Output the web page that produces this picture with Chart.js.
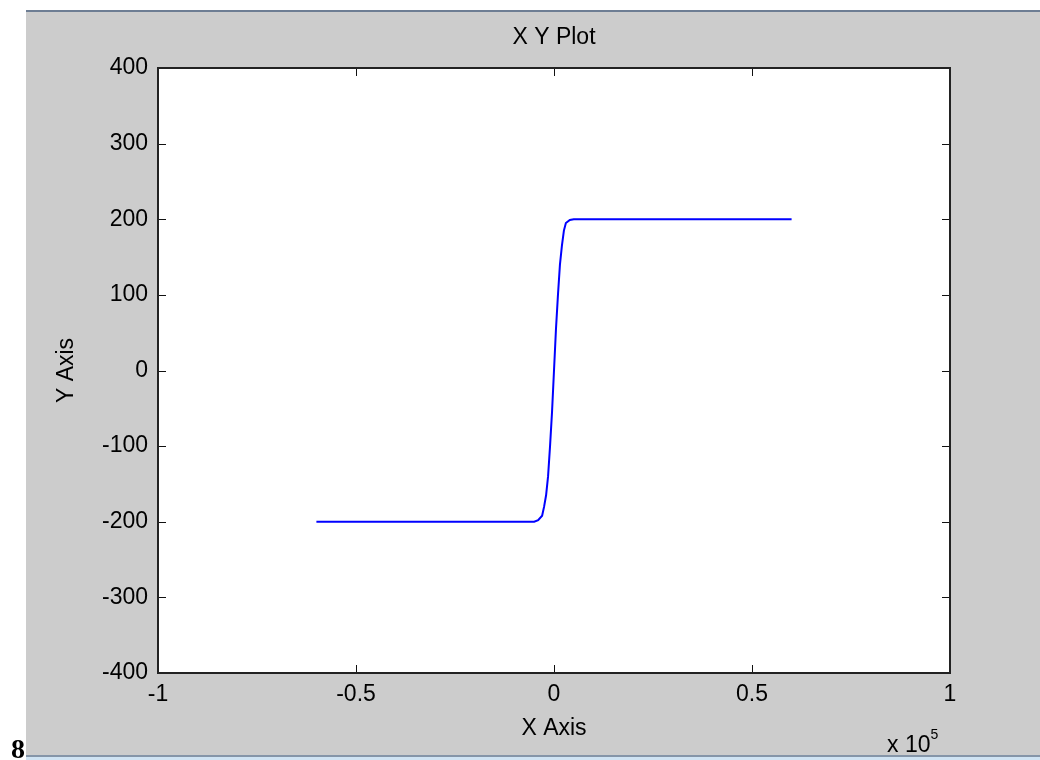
<!DOCTYPE html>
<html lang="en">
<head>
  <meta charset="UTF-8">
  <title>X Y Plot</title>
  <script src="https://cdn.jsdelivr.net/npm/chart.js"></script>
  <style>
    body {
      margin: 0;
      background-color: #ffffff;
      width: 1040px;
      height: 760px;
      overflow: hidden;
      position: relative;
      font-family: "Liberation Sans", Arial, sans-serif;
    }
    #fond {
      position: absolute;
      left: 26px;
      top: 10px;
      width: 1014px;
      height: 743px;
      background-color: #cccccc;
      border-top: 2px solid #6d7d93;
      border-bottom: 2px solid #8595a8;
    }
    #bas {
      position: absolute;
      left: 26px;
      top: 757px;
      width: 1014px;
      height: 3px;
      background-color: #cfe3f3;
    }
    #graph {
      position: absolute;
      left: 0;
      top: 0;
    }
    #facteur {
      position: absolute;
      left: 887px;
      top: 730px;
      font-size: 23px;
      color: #000;
    }
    #facteur sup {
      font-size: 14px;
      position: relative;
      top: -4px;
    }
    #numero {
      position: absolute;
      left: 11px;
      top: 733px;
      font-family: "Liberation Serif", "Times New Roman", serif;
      font-weight: bold;
      font-size: 28px;
      color: #000;
    }
  </style>
</head>
<body>
  <div id="fond"></div>
  <div id="bas"></div>
  <canvas id="graph" width="1040" height="760"></canvas>
  <div id="facteur">x 10<sup>5</sup></div>
  <div id="numero">8</div>

  <script>
    // valeurs (x en unités réelles, axe affiché en x 10^5)
    const valeursX = [-60000, -5000, -4000, -3000, -2500, -2000, -1500, -1000, -500, 0,
                      500, 1000, 1500, 2000, 2500, 3000, 4000, 5000, 60000];
    const valeursY = [-200, -200, -198, -192, -180, -165, -140, -100, -55, 0,
                      55, 100, 140, 165, 185, 195, 199, 200, 200];
    const ticksX = [-100000, -50000, 0, 50000, 100000];
    const ticksY = [-400, -300, -200, -100, 0, 100, 200, 300, 400];
    const titre = 'X Y Plot';

    const points = valeursX.map((x, i) => ({ x: x, y: valeursY[i] }));
    const famille = "'Liberation Sans', Arial, sans-serif";

    // cadre fermé, petits traits vers l'intérieur et titre centré sur la zone du graphe
    const cadre = {
      id: 'cadre',
      beforeDraw(chart) {
        const { ctx, chartArea: a } = chart;
        ctx.save();
        ctx.fillStyle = '#ffffff';
        ctx.fillRect(a.left, a.top, a.right - a.left, a.bottom - a.top);
        ctx.restore();
      },
      afterDraw(chart) {
        const { ctx, chartArea: a, scales } = chart;
        ctx.save();
        ctx.strokeStyle = '#111';
        ctx.lineWidth = 1;
        ctx.beginPath();
        scales.x.ticks.forEach(t => {
          const px = Math.round(scales.x.getPixelForValue(t.value)) + 0.5;
          ctx.moveTo(px, a.bottom); ctx.lineTo(px, a.bottom - 8);
          ctx.moveTo(px, a.top); ctx.lineTo(px, a.top + 8);
        });
        scales.y.ticks.forEach(t => {
          const py = Math.round(scales.y.getPixelForValue(t.value)) + 0.5;
          ctx.moveTo(a.left, py); ctx.lineTo(a.left + 8, py);
          ctx.moveTo(a.right, py); ctx.lineTo(a.right - 8, py);
        });
        ctx.stroke();
        ctx.lineWidth = 2;
        ctx.strokeStyle = '#222';
        ctx.strokeRect(a.left, a.top, a.right - a.left, a.bottom - a.top);

        ctx.fillStyle = '#000';
        ctx.font = '23px ' + famille;
        ctx.textAlign = 'center';
        ctx.textBaseline = 'middle';
        ctx.fillText(titre, (a.left + a.right) / 2, 38);
        ctx.restore();
      }
    };

    new Chart(document.getElementById('graph'), {
      type: 'scatter',
      data: {
        datasets: [{
          data: points,
          showLine: true,
          borderColor: '#0000ff',
          borderWidth: 2,
          pointRadius: 0,
          tension: 0
        }]
      },
      options: {
        responsive: false,
        animation: false,
        layout: { padding: { left: 0, right: 90, top: 68, bottom: 0 } },
        plugins: {
          legend: { display: false },
          tooltip: { enabled: false },
          title: { display: false }
        },
        scales: {
          x: {
            type: 'linear',
            min: -100000,
            max: 100000,
            afterBuildTicks: s => { s.ticks = ticksX.map(v => ({ value: v })); },
            afterFit: s => { s.height = 87; },
            grid: { drawOnChartArea: false, drawTicks: false },
            border: { display: false },
            ticks: {
              color: '#000',
              font: { family: famille, size: 23 },
              padding: 8,
              maxRotation: 0,
              callback: v => String(v / 100000)
            },
            title: {
              display: true,
              text: 'X Axis',
              color: '#000',
              font: { family: famille, size: 23 },
              padding: { top: 0, bottom: 18 }
            }
          },
          y: {
            type: 'linear',
            min: -400,
            max: 400,
            afterBuildTicks: s => { s.ticks = ticksY.map(v => ({ value: v })); },
            afterFit: s => { s.width = 158; },
            grid: { drawOnChartArea: false, drawTicks: false },
            border: { display: false },
            ticks: {
              color: '#000',
              font: { family: famille, size: 23 },
              padding: 10
            },
            title: {
              display: true,
              text: 'Y Axis',
              color: '#000',
              font: { family: famille, size: 23 },
              padding: { top: 53, bottom: 0 }
            }
          }
        }
      },
      plugins: [cadre]
    });
  </script>
</body>
</html>
